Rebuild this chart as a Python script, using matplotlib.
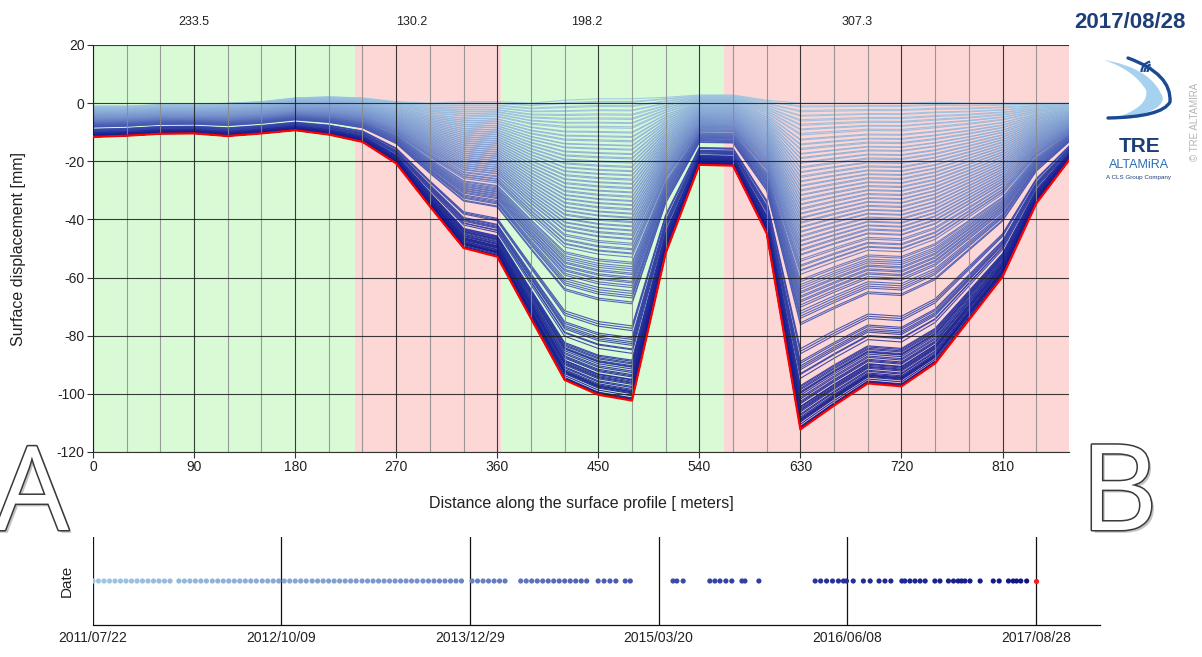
import datetime as dt
import numpy as np
import matplotlib
matplotlib.use("Agg")
import matplotlib.pyplot as plt
from matplotlib.colors import LinearSegmentedColormap
from matplotlib.patches import PathPatch, Arc
from matplotlib.path import Path
from matplotlib.ticker import MultipleLocator
import matplotlib.patheffects as pe

plt.rcParams['font.family'] = ['Liberation Sans', 'DejaVu Sans']
plt.rcParams['axes.unicode_minus'] = False

# ---------------- data ----------------
segment_lengths = [233.5, 130.2, 198.2, 307.3]
segment_kinds = ['stable', 'moving', 'stable', 'moving']

dist_m = [0, 30, 60, 90, 120, 150, 180, 210, 240, 270, 300, 330, 360, 390, 420,
          450, 480, 510, 540, 570, 600, 630, 660, 690, 720, 750, 780, 810, 840, 869.2]
# last acquisition (red profile)
final_mm = [-11.6, -11.2, -10.5, -10.4, -11.3, -10.4, -9.3, -10.8, -13.3, -20.7,
            -35.5, -49.8, -52.8, -74.0, -95.2, -100.3, -102.3, -51.6, -21.2, -21.5,
            -44.8, -112.2, -104.0, -96.4, -97.4, -89.5, -74.6, -59.7, -34.5, -19.6]
# first acquisition (top, lightest profile)
first_mm = [-1.0, -1.0, -0.5, -0.5, 0.0, 0.5, 1.8, 2.2, 1.8, 0.5,
            0.0, 0.5, 0.5, 0.0, 1.0, 1.5, 1.5, 2.0, 2.8, 2.8,
            1.0, 0.0, 0.0, 0.0, 0.0, 0.3, 0.0, 0.0, 0.0, 0.0]

start_date = '2011/07/22'
# acquisition dates, days after start_date
acq_days = [0, 13, 26, 39, 52, 65, 78, 91, 104, 117, 130, 143, 156, 169, 182,
            203, 216, 229, 242, 255, 268, 282, 295, 308, 321, 334, 347, 360, 373, 386,
            400, 413, 426, 439, 452, 465, 478, 491, 504, 518, 531, 544, 557, 570, 583,
            596, 609, 622, 636, 649, 662, 675, 688, 701, 714, 727, 740, 753, 766, 780,
            793, 806, 819, 832, 845, 858, 871,
            896, 909, 922, 935, 948, 961, 974,
            1011, 1024, 1037, 1050, 1063, 1076, 1089, 1102, 1115, 1128, 1141, 1154, 1167,
            1194, 1208, 1222, 1236, 1258, 1270,
            1371, 1380, 1395,
            1458, 1470, 1482, 1496, 1510, 1534, 1541,
            1574,
            1707, 1720, 1734, 1748, 1762, 1774, 1781, 1797, 1821, 1837, 1858, 1872,
            1886, 1912, 1919, 1931, 1943, 1955, 1967, 1990, 2002, 2022, 2034, 2045,
            2053, 2061, 2073, 2097, 2128, 2142, 2164, 2175, 2183, 2193, 2207, 2229]
# displacement at the deepest point of the first trough (480 m) for each acquisition
trough_mm = [0.0, -0.9, -1.2, -2.3, -2.7, -3.8, -4.1, -5.2, -5.6, -6.6, -7.0, -8.1, -8.4, -9.5, -10.0,
             -11.3, -11.6, -12.8, -13.1, -14.2, -14.6, -15.8, -16.0, -17.1, -17.4, -18.6, -18.9, -20.0, -20.4, -21.5,
             -21.8, -22.9, -23.3, -24.4, -24.7, -25.8, -26.1, -27.2, -27.6, -28.7, -29.0, -30.1, -30.5, -31.6, -31.9,
             -33.0, -33.4, -34.5, -34.8, -35.9, -36.2, -37.3, -37.7, -38.8, -39.1, -40.2, -40.5, -41.6, -42.0, -43.1,
             -43.4, -44.5, -44.8, -45.9, -46.3, -47.4, -47.7,
             -49.0, -49.6, -50.8, -51.2, -52.3, -52.6, -53.7,
             -55.4, -56.0, -56.9, -57.6, -58.3, -59.1, -59.6, -60.5, -61.0, -61.9, -62.4, -63.3, -64.0,
             -65.2, -66.0, -66.8, -67.5, -68.9, -69.5,
             -77.0, -77.8, -78.6,
             -81.0, -81.6, -82.4, -83.0, -83.6, -84.8, -85.1,
             -86.3,
             -88.6, -89.0, -89.5, -89.9, -90.5, -90.8, -91.0, -91.6, -92.3, -92.8, -93.5, -93.9,
             -94.3, -95.1, -95.3, -95.7, -96.1, -96.4, -96.8, -97.5, -97.9, -98.5, -98.9, -99.2,
             -99.4, -99.7, -100.0, -100.7, -101.4, -101.6, -101.9, -102.0, -102.1, -102.1, -102.2, -102.3]

date_ticks = ['2011/07/22', '2012/10/09', '2013/12/29', '2015/03/20', '2016/06/08', '2017/08/28']
last_date_label = '2017/08/28'

# ---------------- figure ----------------
W, H = 1202, 657
fig = plt.figure(figsize=(W / 100, H / 100), dpi=100)
fig.patch.set_facecolor('white')

def px_axes(l, t, r, b):
    return fig.add_axes([l / W, 1 - b / H, (r - l) / W, (b - t) / H])

ax = px_axes(93, 45, 1069, 452)
dist = np.array(dist_m)
final = np.array(final_mm)
first = np.array(first_mm)
tr = np.array(trough_mm)
days = np.array(acq_days)

cmap = LinearSegmentedColormap.from_list(
    'tre', [(0.0, '#9fc6e2'), (0.35, '#7590cc'), (0.62, '#3a49aa'), (1.0, '#0e1488')])

# background segments
edges = np.concatenate([[0], np.cumsum(segment_lengths)])
bg = {'stable': '#d8fbd6', 'moving': '#fdd6d6'}
for k, kind in enumerate(segment_kinds):
    ax.axvspan(edges[k], edges[k + 1], color=bg[kind], lw=0, zorder=0)
    cx = edges[k] + 0.385 * segment_lengths[k]
    ax.text(cx, 1.057, f'{segment_lengths[k]:.1f}', transform=ax.get_xaxis_transform(),
            ha='center', va='center', fontsize=9, color='#222222')

# profiles
frac = (tr - tr[0]) / (tr[-1] - tr[0])
tnorm = days / days[-1]
for i in range(len(days) - 1):
    prof = first + (final - first) * frac[i]
    ax.plot(dist, prof, color=cmap(tnorm[i]), lw=0.8, alpha=0.9, zorder=2)
ax.plot(dist, final, color='#ff0000', lw=1.6, zorder=3)

ax.set_xlim(0, edges[-1])
ax.set_ylim(-120, 20)
ax.xaxis.set_major_locator(MultipleLocator(90))
ax.xaxis.set_minor_locator(MultipleLocator(30))
ax.yaxis.set_major_locator(MultipleLocator(20))
ax.set_axisbelow(False)
ax.grid(which='major', axis='both', color='#1a1a1a', lw=0.8, alpha=0.85)
ax.grid(which='minor', axis='x', color='#8a8a8a', lw=0.8, alpha=0.85)
ax.tick_params(which='minor', length=0)
ax.tick_params(which='major', length=4, width=0.8, color='#333333', labelsize=10,
               labelcolor='#222222', pad=2)
for s in ['top', 'right']:
    ax.spines[s].set_visible(False)
for s in ['left', 'bottom']:
    ax.spines[s].set_color('#333333')
    ax.spines[s].set_linewidth(0.8)
ax.set_xlabel('Distance along the surface profile [ meters]', fontsize=11.5,
              color='#222222')
ax.set_ylabel('Surface displacement [mm]', fontsize=11.5, color='#222222')
ax.xaxis.set_label_coords(0.5, -(496 - 452) / 407)
ax.yaxis.set_label_coords(-(93 - 26) / 976, 0.5)

# ---------------- timeline ----------------
t0 = dt.datetime.strptime(start_date, '%Y/%m/%d')
tick_days = [(dt.datetime.strptime(d, '%Y/%m/%d') - t0).days for d in date_ticks]
px_per_day = (1036 - 93) / tick_days[-1]
tax = px_axes(93, 537, 1100, 625)
tax.set_xlim(0, (1100 - 93) / px_per_day)
tax.set_ylim(-1, 1)
for td in tick_days:
    tax.axvline(td, color='#111111', lw=0.9, zorder=1)
tax.scatter(days[:-1], np.zeros(len(days) - 1), s=14, c=cmap(tnorm[:-1]), lw=0, zorder=3)
tax.scatter(days[-1:], [0], s=14, c='#ff1a1a', lw=0, zorder=4)
tax.set_xticks(tick_days)
tax.set_xticklabels(date_ticks)
tax.set_yticks([])
tax.tick_params(axis='x', length=0, labelsize=10, labelcolor='#222222', pad=4)
for s in ['top', 'right', 'left']:
    tax.spines[s].set_visible(False)
tax.spines['bottom'].set_color('#111111')
tax.spines['bottom'].set_linewidth(0.9)
tax.set_ylabel('Date', fontsize=11, color='#222222', labelpad=14)

# ---------------- decorations ----------------
dax = fig.add_axes([0, 0, 1, 1], zorder=10)
dax.set_xlim(0, W)
dax.set_ylim(H, 0)
dax.axis('off')
dax.patch.set_alpha(0)

dax.text(1130, 22, last_date_label, ha='center', va='center', fontsize=16,
         fontweight='bold', color='#1d3f78')

# logo swoosh
verts = [(1104, 60), (1152, 68), (1163, 98), (1162, 114), (1116, 118),
         (1150, 106), (1146, 90), (1134, 70), (1104, 60), (1104, 60)]
codes = [Path.MOVETO, Path.CURVE3, Path.CURVE3, Path.CURVE3, Path.CURVE3,
         Path.CURVE3, Path.CURVE3, Path.CURVE3, Path.CURVE3, Path.CLOSEPOLY]
dax.add_patch(PathPatch(Path(verts, codes), fc='#a6d2f0', ec='none'))
verts2 = [(1128, 58), (1172, 74), (1170, 102), (1162, 117), (1108, 118)]
codes2 = [Path.MOVETO, Path.CURVE3, Path.CURVE3, Path.CURVE3, Path.CURVE3]
dax.add_patch(PathPatch(Path(verts2, codes2), fc='none', ec='#1b4a92', lw=2.4,
                        capstyle='round'))
for r in (9, 15, 21):
    dax.add_patch(Arc((1152, 72), r, r, theta1=180, theta2=260, color='#1b4a92', lw=1.6))
dax.text(1140, 147, 'TRE', ha='center', va='center', fontsize=15, fontweight='bold',
         color='#1d3f78')
dax.text(1139, 165, 'ALTAMiRA', ha='center', va='center', fontsize=9, color='#2a6db2')
dax.text(1139, 177, 'A CLS Group Company', ha='center', va='center', fontsize=4.5,
         color='#1d3f78')
dax.text(1195, 122, '© TRE ALTAMIRA', ha='center', va='center', fontsize=7,
         rotation=90, color='#b5b5b5')

# big A / B markers
letter_fx = [pe.SimplePatchShadow(offset=(2, -2), shadow_rgbFace='#888888', alpha=0.5),
             pe.withStroke(linewidth=2.2, foreground='#3a3a3a')]
dax.text(32, 530, 'A', ha='center', va='baseline', fontsize=84, color='white',
         family=['Open Sans', 'DejaVu Sans'], path_effects=letter_fx)
dax.text(1119, 530, 'B', ha='center', va='baseline', fontsize=86, color='white',
         family=['Open Sans', 'DejaVu Sans'], path_effects=letter_fx)

fig.savefig('out.png', dpi=100, facecolor='white')
